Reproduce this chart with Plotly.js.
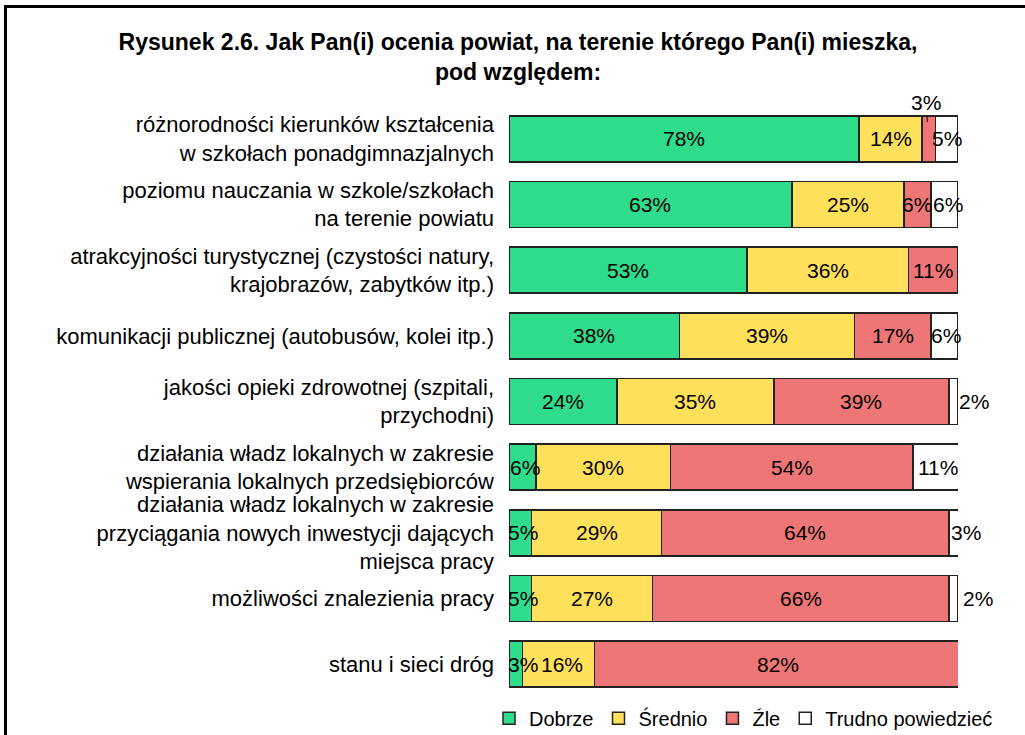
<!DOCTYPE html>
<html>
<head>
<meta charset="utf-8">
<script src="https://cdn.plot.ly/plotly-3.0.1.min.js"></script>
<style>
body { margin: 0; background: #fff; overflow: hidden; }
#graph { width: 1025px; height: 735px; }
#frame { position: absolute; left: 4px; top: 5px; width: 1040px; height: 750px;
         border-left: 3px solid #000; border-top: 3px solid #000; pointer-events: none; }
</style>
</head>
<body>
<div id="graph"></div>
<div id="frame"></div>
<script>
// categories, top to bottom
const categories = [
    'różnorodności kierunków kształcenia<br>w szkołach ponadgimnazjalnych',
    'poziomu nauczania w szkole/szkołach<br>na terenie powiatu',
    'atrakcyjności turystycznej (czystości natury,<br>krajobrazów, zabytków itp.)',
    'komunikacji publicznej (autobusów, kolei itp.)',
    'jakości opieki zdrowotnej (szpitali,<br>przychodni)',
    'działania władz lokalnych w zakresie<br>wspierania lokalnych przedsiębiorców',
    'działania władz lokalnych w zakresie<br>przyciągania nowych inwestycji dających<br>miejsca pracy',
    'możliwości znalezienia pracy',
    'stanu i sieci dróg'
];

const dobrze  = [78, 63, 53, 38, 24, 6, 5, 5, 3];
const srednio = [14, 25, 36, 39, 35, 30, 29, 27, 16];
const zle     = [3, 6, 11, 17, 39, 54, 64, 66, 82];
const trudno  = [5, 6, 0, 6, 2, 11, 3, 2, 0];

const seriesNames = ['Dobrze', 'Średnio', 'Źle', 'Trudno powiedzieć'];
const seriesValues = [dobrze, srednio, zle, trudno];
const seriesColors = ['#2edc8c', '#ffe05a', '#ee7676', '#ffffff'];

const FONT = 'Liberation Sans, Arial, sans-serif';

const traces = seriesValues.map((vals, s) => ({
    type: 'bar',
    orientation: 'h',
    name: seriesNames[s],
    x: vals,
    y: categories,
    marker: { color: seriesColors[s], line: { color: '#222', width: 1.5 } },
    hoverinfo: 'x+name',
}));

// label tweaks for small segments (row,series)
const labelTweaks = {
    '0,2': { showarrow: true, ax: -3, ay: -36, standoff: 17 },
    '1,2': { xshift: -1 },
    '1,3': { xshift: 3 },
    '3,3': { xshift: 1 },
    '4,3': { xshift: 20 },
    '5,0': { xshift: 3 },
    '6,0': { xshift: 3 },
    '6,3': { xshift: 10 },
    '7,0': { xshift: 3 },
    '7,3': { xshift: 24 },
    '8,0': { xshift: 7 },
    '8,1': { xshift: 4 },
};

// data labels centred on each segment
const annotations = [];
categories.forEach((cat, r) => {
    let cum = 0;
    seriesValues.forEach((vals, s) => {
        const v = vals[r];
        if (v > 0) {
            const ann = {
                x: cum + v / 2,
                y: cat,
                xref: 'x', yref: 'y',
                text: v + '%',
                showarrow: false,
                font: { family: FONT, size: 21, color: '#000' },
                arrowhead: 0, arrowwidth: 1, arrowcolor: '#000',
            };
            Object.assign(ann, labelTweaks[r + ',' + s] || {});
            annotations.push(ann);
        }
        cum += v;
    });
});

const layout = {
    width: 1025,
    height: 735,
    barmode: 'stack',
    bargap: 0.3,
    plot_bgcolor: 'white',
    paper_bgcolor: 'white',
    font: { family: FONT, size: 21, color: '#000' },
    title: {
        text: '<b>Rysunek 2.6. Jak Pan(i) ocenia powiat, na terenie którego Pan(i) mieszka,<br>pod względem:</b>',
        font: { family: FONT, size: 23, color: '#000' },
        xref: 'container', x: 0.5054,
        yref: 'container', y: 0.932, yanchor: 'top',
    },
    margin: { l: 509, r: 67, t: 106, b: 38, autoexpand: false },
    xaxis: { range: [0, 100], visible: false, fixedrange: true },
    yaxis: {
        type: 'category',
        autorange: 'reversed',
        showline: false, showgrid: false, zeroline: false,
        ticks: '',
        ticklabelstandoff: 14,
        tickfont: { family: FONT, size: 22, color: '#000' },
    },
    showlegend: true,
    legend: {
        orientation: 'h',
        x: -0.0445, xanchor: 'left',
        y: -0.036, yanchor: 'middle',
        font: { family: FONT, size: 20, color: '#000' },
        itemwidth: 30,
        traceorder: 'normal',
    },
    annotations: annotations,
};

Plotly.newPlot('graph', traces, layout, { displayModeBar: false, staticPlot: true });
</script>
</body>
</html>
